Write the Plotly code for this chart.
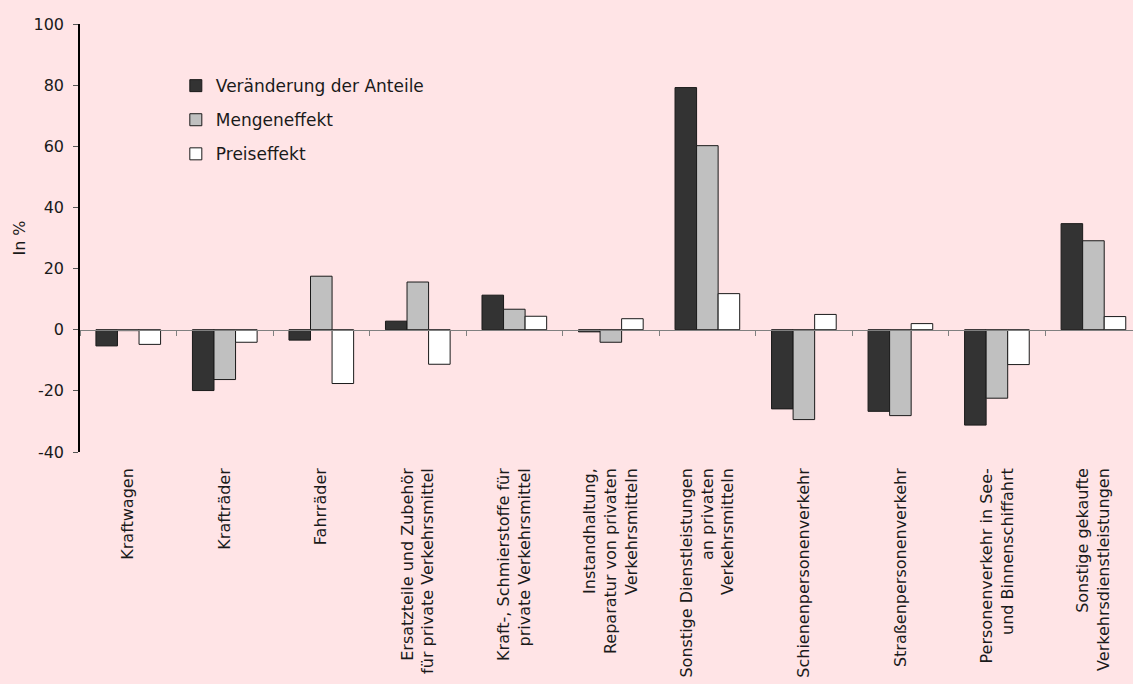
import plotly.graph_objects as go

categories = [
    "Kraftwagen",
    "Krafträder",
    "Fahrräder",
    "Ersatzteile und Zubehör<br>für private Verkehrsmittel",
    "Kraft-, Schmierstoffe für<br>private Verkehrsmittel",
    "Instandhaltung,<br>Reparatur von privaten<br>Verkehrsmitteln",
    "Sonstige Dienstleistungen<br>an privaten<br>Verkehrsmitteln",
    "Schienenpersonenverkehr",
    "Straßenpersonenverkehr",
    "Personenverkehr in See-<br>und Binnenschiffahrt",
    "Sonstige gekaufte<br>Verkehrsdienstleistungen",
]
anteile = [-5.3, -19.9, -3.4, 2.8, 11.3, -0.7, 79.2, -25.9, -26.7, -31.2, 34.7]
menge = [-0.3, -16.3, 17.5, 15.6, 6.7, -4.1, 60.2, -29.4, -28.1, -22.4, 29.1]
preis = [-4.8, -4.1, -17.6, -11.3, 4.4, 3.6, 11.8, 5.0, 2.0, -11.4, 4.3]
series_names = ["Veränderung der Anteile", "Mengeneffekt", "Preiseffekt"]
y_ticks = [-40, -20, 0, 20, 40, 60, 80, 100]
y_tick_labels = ["-40", "-20", "0", "20", "40", "60", "80", "100"]

FONT = "DejaVu Sans"
BG = "rgb(255,228,230)"
colors = ["#333333", "#c0c0c0", "#ffffff"]
x_range = [-0.5, 10.41]

fig = go.Figure()
for i, (name, vals) in enumerate(zip(series_names, [anteile, menge, preis])):
    fig.add_trace(go.Bar(
        x=categories, y=vals, name=name,
        marker=dict(color=colors[i], line=dict(color="#1a1a1a", width=1)),
        legendgroup=f"g{i}",
    ))

# invisible trace carrying the category labels at the bottom
fig.add_trace(go.Scatter(
    x=categories, y=[0] * len(categories), xaxis="x2", mode="markers",
    marker=dict(opacity=0), showlegend=False, hoverinfo="skip",
))

fig.update_layout(
    width=1133, height=684,
    paper_bgcolor=BG, plot_bgcolor=BG,
    margin=dict(l=80, r=0, t=24, b=232),
    barmode="group", bargap=0.33, bargroupgap=0,
    font=dict(family=FONT, color="#1a1a1a"),
    showlegend=True,
    legend=dict(
        x=0.091, y=0.897, xanchor="left", yanchor="top",
        bgcolor="rgba(0,0,0,0)", font=dict(size=17, family=FONT, color="#1a1a1a"),
        tracegroupgap=9, itemclick=False,
    ),
    xaxis=dict(
        type="category", categoryorder="array", categoryarray=categories,
        range=x_range, anchor="free", position=40 / 140, automargin=False,
        showline=True, linecolor="#808080", linewidth=1,
        ticks="outside", tickson="boundaries", ticklen=5, tickcolor="#808080",
        showticklabels=False, showgrid=False, zeroline=False,
    ),
    xaxis2=dict(
        type="category", categoryorder="array", categoryarray=categories,
        range=x_range, overlaying="x", anchor="y", side="bottom", automargin=False,
        showline=False, ticks="", showgrid=False, zeroline=False,
        tickangle=-90, tickfont=dict(size=16, family=FONT, color="#1a1a1a"),
        ticklabelstandoff=12,
    ),
    yaxis=dict(
        range=[-40, 100], tickvals=y_ticks, ticktext=y_tick_labels, automargin=False,
        showline=True, linecolor="#000000", linewidth=1.5,
        ticks="outside", ticklen=5, tickcolor="#555555",
        showgrid=False, zeroline=False,
        tickfont=dict(size=16, family=FONT, color="#1a1a1a"),
        ticklabelstandoff=6,
        title=dict(text="In %", font=dict(size=16, family=FONT, color="#1a1a1a"), standoff=4),
    ),
)

fig.write_html(
    "out.html",
    config={"displayModeBar": False},
    post_script="document.body.style.margin='0';document.body.style.overflow='hidden';",
)
